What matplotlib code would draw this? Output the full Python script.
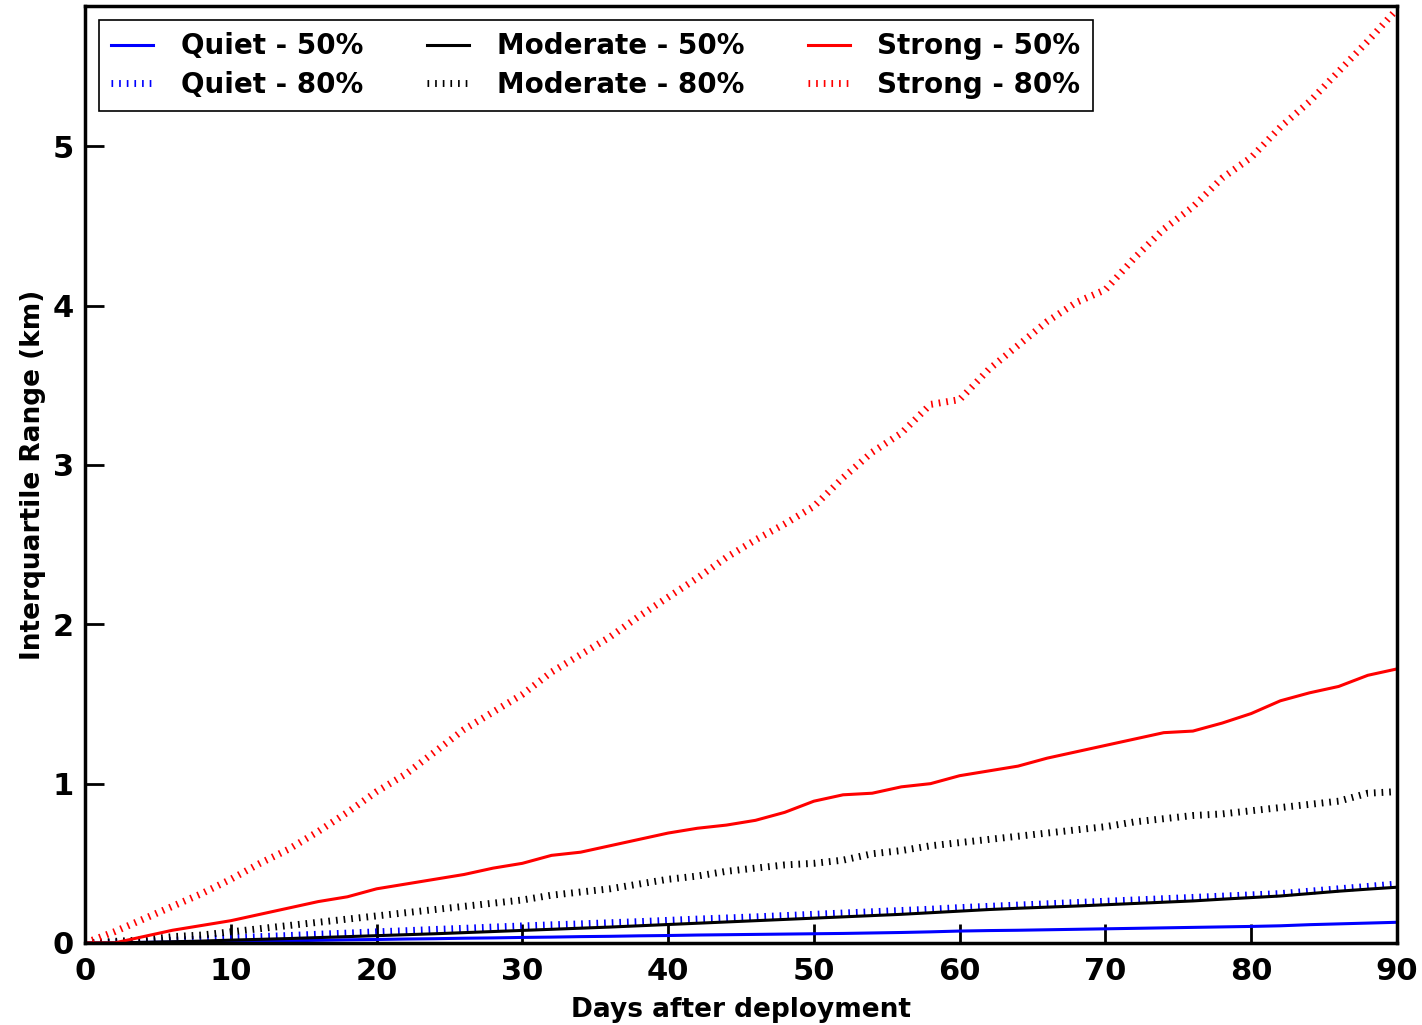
import numpy as np
import matplotlib
matplotlib.use('Agg')
import matplotlib.pyplot as plt

plt.rcParams['font.family'] = 'DejaVu Sans'
plt.rcParams['font.weight'] = 'bold'
plt.rcParams['lines.scale_dashes'] = False

days = np.arange(0, 91, 2)

# interquartile range (km) of drifter spread
quiet_50 = [0.0, 0.0, 0.004, 0.006, 0.008, 0.01, 0.012, 0.014, 0.017, 0.02,
            0.022, 0.025, 0.027, 0.03, 0.032, 0.035, 0.037, 0.04, 0.042, 0.045,
            0.047, 0.05, 0.052, 0.054, 0.056, 0.058, 0.06, 0.063, 0.066, 0.07,
            0.075, 0.078, 0.08, 0.083, 0.086, 0.089, 0.092, 0.095, 0.098, 0.101,
            0.104, 0.108, 0.115, 0.12, 0.125, 0.13]
quiet_80 = [0.0, 0.004, 0.01, 0.017, 0.025, 0.032, 0.04, 0.047, 0.055, 0.062,
            0.07, 0.077, 0.085, 0.092, 0.1, 0.107, 0.114, 0.12, 0.127, 0.134,
            0.142, 0.15, 0.157, 0.164, 0.172, 0.18, 0.188, 0.196, 0.204, 0.212,
            0.222, 0.23, 0.238, 0.246, 0.254, 0.262, 0.27, 0.278, 0.286, 0.294,
            0.302, 0.31, 0.325, 0.34, 0.355, 0.37]
moderate_50 = [0.0, 0.0, 0.004, 0.008, 0.012, 0.018, 0.023, 0.028, 0.034, 0.04,
               0.046, 0.052, 0.058, 0.065, 0.072, 0.079, 0.086, 0.093, 0.1, 0.108,
               0.116, 0.124, 0.132, 0.14, 0.148, 0.156, 0.164, 0.172, 0.18, 0.19,
               0.2, 0.21, 0.218, 0.225, 0.232, 0.24, 0.248, 0.256, 0.264, 0.275,
               0.285, 0.295, 0.31, 0.325, 0.338, 0.35]
moderate_80 = [0.0, 0.01, 0.02, 0.04, 0.05, 0.07, 0.09, 0.11, 0.13, 0.15,
               0.17, 0.19, 0.21, 0.23, 0.25, 0.27, 0.30, 0.32, 0.34, 0.37,
               0.40, 0.42, 0.45, 0.47, 0.49, 0.50, 0.52, 0.56, 0.58, 0.61,
               0.63, 0.65, 0.67, 0.69, 0.71, 0.73, 0.76, 0.78, 0.80, 0.81,
               0.83, 0.85, 0.87, 0.89, 0.94, 0.95]
strong_50 = [0.0, 0.0, 0.04, 0.08, 0.11, 0.14, 0.18, 0.22, 0.26, 0.29,
             0.34, 0.37, 0.40, 0.43, 0.47, 0.50, 0.55, 0.57, 0.61, 0.65,
             0.69, 0.72, 0.74, 0.77, 0.82, 0.89, 0.93, 0.94, 0.98, 1.00,
             1.05, 1.08, 1.11, 1.16, 1.20, 1.24, 1.28, 1.32, 1.33, 1.38,
             1.44, 1.52, 1.57, 1.61, 1.68, 1.72]
strong_80 = [0.0, 0.07, 0.15, 0.23, 0.31, 0.40, 0.50, 0.59, 0.70, 0.82,
             0.95, 1.06, 1.20, 1.34, 1.45, 1.56, 1.70, 1.81, 1.92, 2.05,
             2.17, 2.29, 2.42, 2.53, 2.63, 2.74, 2.92, 3.08, 3.20, 3.38,
             3.41, 3.60, 3.75, 3.90, 4.02, 4.10, 4.30, 4.48, 4.62, 4.80,
             4.93, 5.12, 5.28, 5.47, 5.66, 5.86]

dots = (0, (1.2, 4.3))

fig = plt.figure(figsize=(14.22, 10.25), dpi=100)
ax = fig.add_axes([0.0598, 0.08, 0.9226, 0.9141])

ax.plot(days, quiet_50, color='b', linewidth=2.2, label='Quiet - 50%')
ax.plot(days, quiet_80, color='b', linewidth=5, linestyle=dots, label='Quiet - 80%')
ax.plot(days, moderate_50, color='k', linewidth=2.2, label='Moderate - 50%')
ax.plot(days, moderate_80, color='k', linewidth=5, linestyle=dots, label='Moderate - 80%')
ax.plot(days, strong_50, color='r', linewidth=2.2, label='Strong - 50%')
ax.plot(days, strong_80, color='r', linewidth=5, linestyle=dots, label='Strong - 80%')

ax.set_xlim(0, 90)
ax.set_ylim(0, 5.88)
ax.set_xticks(np.arange(0, 91, 10))
ax.set_yticks(np.arange(0, 6, 1))
ax.tick_params(direction='in', length=14, width=2, labelsize=22, pad=8)
ax.tick_params(axis='x', pad=10)
for s in ax.spines.values():
    s.set_linewidth(2.5)

ax.set_xlabel('Days after deployment', fontsize=19, fontweight='bold', labelpad=8)
ax.set_ylabel('Interquartile Range (km)', fontsize=19, fontweight='bold', labelpad=5)

leg = ax.legend(loc='upper left', ncol=3, fontsize=20, fancybox=False,
                handlelength=1.5, handletextpad=1.0, columnspacing=2.3,
                labelspacing=0.38, borderpad=0.45, framealpha=1)
leg.get_frame().set_edgecolor('black')
leg.get_frame().set_linewidth(1.2)

fig.savefig('out.png', dpi=100)
